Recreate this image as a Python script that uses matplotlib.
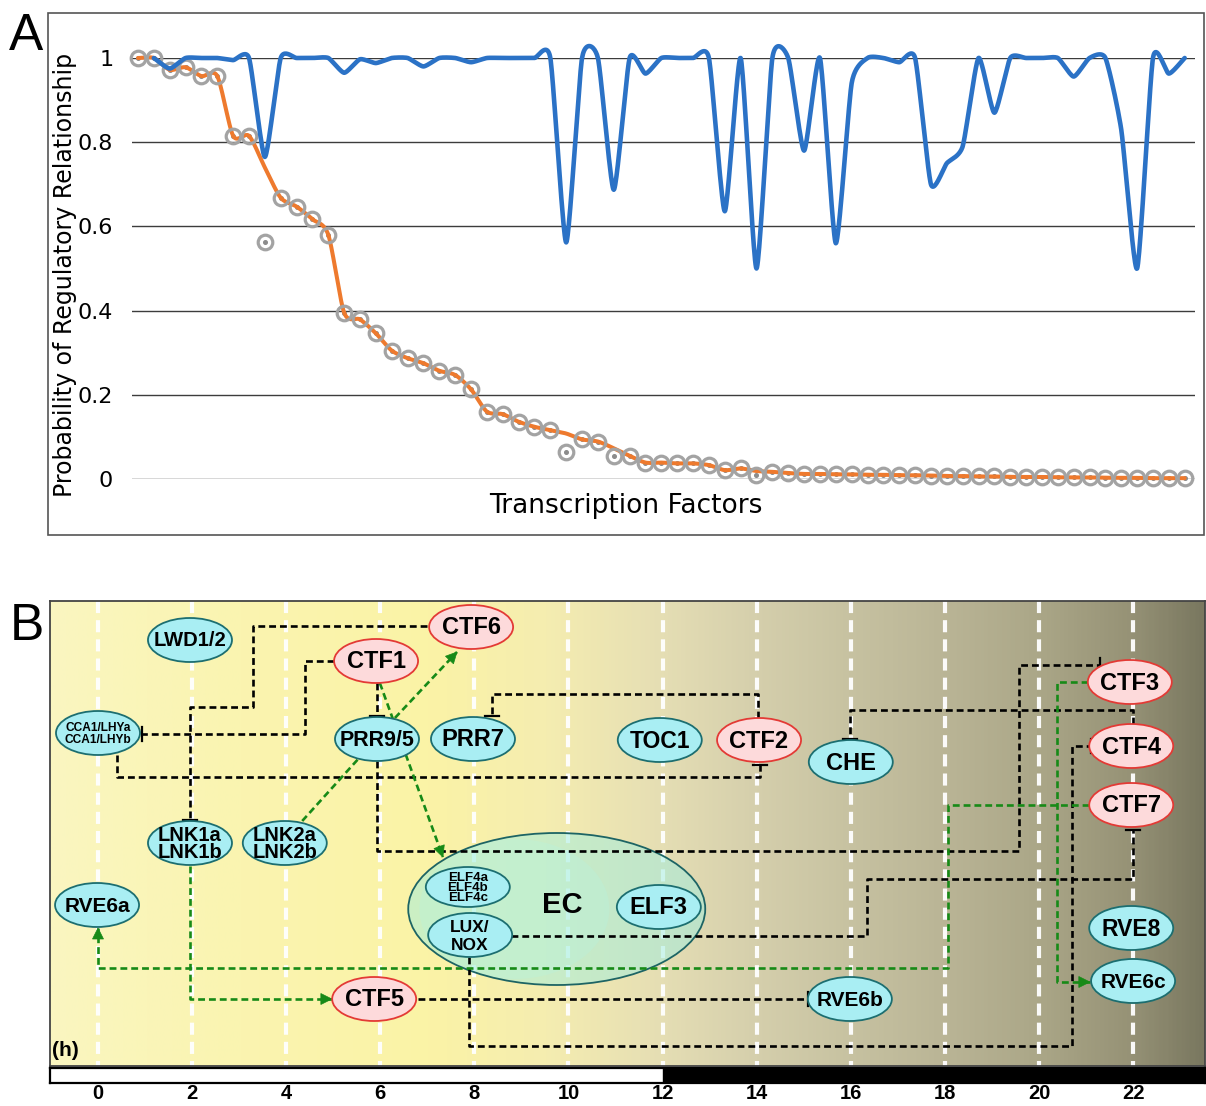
import numpy as np
import matplotlib
matplotlib.use("Agg")
import matplotlib.pyplot as plt
from matplotlib.patches import Rectangle, Ellipse, Polygon
from matplotlib.colors import LinearSegmentedColormap

# ---------------- data: panel A ----------------
tf_circles = [1.0, 1.0, 0.972, 0.978, 0.957, 0.957, 0.815, 0.815, 0.562, 0.668,
              0.647, 0.617, 0.580, 0.395, 0.379, 0.346, 0.305, 0.287, 0.275, 0.257,
              0.247, 0.213, 0.160, 0.154, 0.136, 0.124, 0.116, 0.065, 0.094, 0.089,
              0.055, 0.055, 0.039, 0.039, 0.037, 0.037, 0.033, 0.021, 0.025, 0.0095,
              0.017, 0.014, 0.012, 0.012, 0.011, 0.011, 0.010, 0.010, 0.009, 0.009,
              0.008, 0.007, 0.007, 0.006, 0.006, 0.005, 0.005, 0.005, 0.004, 0.004,
              0.004, 0.003, 0.003, 0.003, 0.002, 0.002, 0.002]
tf_orange = [1.0, 1.0, 0.972, 0.978, 0.957, 0.957, 0.815, 0.815, 0.740, 0.668,
             0.647, 0.617, 0.580, 0.395, 0.379, 0.346, 0.305, 0.287, 0.275, 0.257,
             0.247, 0.213, 0.160, 0.154, 0.136, 0.124, 0.116, 0.108, 0.094, 0.089,
             0.073, 0.055, 0.039, 0.039, 0.037, 0.037, 0.033, 0.021, 0.025, 0.019,
             0.017, 0.014, 0.012, 0.012, 0.011, 0.011, 0.010, 0.010, 0.009, 0.009,
             0.008, 0.007, 0.007, 0.006, 0.006, 0.005, 0.005, 0.005, 0.004, 0.004,
             0.004, 0.003, 0.003, 0.003, 0.002, 0.002, 0.002]
tf_blue = [np.nan, 1.0, 0.975, 1.0, 1.0, 1.0, 0.995, 1.0, 0.765, 1.0,
           1.0, 1.0, 1.0, 0.965, 0.997, 0.988, 1.0, 1.0, 0.98, 1.0,
           1.0, 0.99, 1.0, 1.0, 1.0, 1.0, 1.0, 0.562, 1.0, 1.0,
           0.687, 1.0, 0.963, 1.0, 1.0, 1.0, 1.0, 0.636, 1.0, 0.50,
           1.0, 1.0, 0.78, 1.0, 0.56, 0.94, 1.0, 1.0, 0.99, 1.0,
           0.70, 0.75, 0.79, 1.0, 0.87, 1.0, 1.0, 1.0, 1.0, 0.956,
           1.0, 1.0, 0.83, 0.50, 1.0, 0.963, 1.0]
y_ticks = [0, 0.2, 0.4, 0.6, 0.8, 1.0]
y_ticklabels = ["0", "0.2", "0.4", "0.6", "0.8", "1"]

# ---------------- data: panel B ----------------
hours = list(range(0, 24, 2))
node_names = ["LWD1/2", "CTF6", "CTF1", "CCA1/LHYa\nCCA1/LHYb", "PRR9/5", "PRR7",
              "TOC1", "CTF2", "CHE", "CTF3", "CTF4", "CTF7", "LNK1a\nLNK1b",
              "LNK2a\nLNK2b", "RVE6a", "ELF4a\nELF4b\nELF4c", "ELF3", "LUX/\nNOX",
              "RVE8", "RVE6c", "CTF5", "RVE6b"]
node_hour = [1.955, 7.93, 5.91, 0.0, 5.93, 7.97, 11.94, 14.05, 16.0, 21.93, 21.96, 21.96,
             1.955, 3.97, -0.02, 7.86, 11.92, 7.91, 21.96, 22.0, 5.87, 15.98]
node_level = [640, 627, 661, 733, 739, 739, 740, 740, 762, 682, 746, 805,
              843, 843, 905, 887, 907, 935, 928, 981, 999, 999]
complex_name = "EC"
complex_hour, complex_level = 9.75, 909
complex_label_hour, complex_label_level = 9.86, 905

# edges: (kind, waypoints as (hour, level))
edges = [
    ("inh", [(7.0, 626), (3.29, 626), (3.29, 707), (1.95, 707), (1.95, 820)]),   # CTF6 -| LNK1
    ("inh", [(5.02, 661), (4.40, 661), (4.40, 734), (0.935, 734)]),               # CTF1 -| CCA1/LHY
    ("inh", [(5.93, 683), (5.93, 716)]),                                          # CTF1 -| PRR9/5
    ("inh", [(0.40, 755), (0.40, 777), (14.07, 777), (14.07, 765)]),              # CCA1 -| CTF2
    ("inh", [(14.03, 718), (14.03, 694), (8.37, 694), (8.37, 716)]),              # CTF2 -| PRR7
    ("inh", [(5.93, 761), (5.93, 851), (19.57, 851), (19.57, 665), (21.30, 665)]),# PRR9/5 -| CTF3
    ("inh", [(22.0, 724), (22.0, 710), (15.98, 710), (15.98, 739)]),              # CTF4 -| CHE
    ("inh", [(7.88, 957), (7.88, 1046), (20.70, 1046), (20.70, 746), (21.10, 746)]),  # LUX -| CTF4
    ("inh", [(8.78, 936), (16.34, 936), (16.34, 879), (22.0, 879), (22.0, 830)]), # LUX -| CTF7
    ("inh", [(6.80, 999), (15.09, 999)]),                                         # CTF5 -| RVE6b
    ("act", [(6.31, 718), (7.63, 652)]),                                          # PRR9/5 -> CTF6
    ("act", [(5.99, 683), (7.33, 857)]),                                          # CTF1 -> ELF4
    ("line", [(4.34, 821), (5.53, 759)]),                                         # LNK2 - PRR9/5
    ("act", [(1.95, 866), (1.95, 999), (4.97, 999)]),                             # LNK1 -> CTF5
    ("act", [(21.06, 805), (18.07, 805), (18.07, 968), (0.0, 968), (0.0, 928)]),  # CTF7 -> RVE6a
    ("act", [(21.04, 682), (20.38, 682), (20.38, 982), (21.08, 982)]),            # CTF3 -> RVE6c
]

# ---------------- helpers ----------------
W, H = 1206, 1106
fig = plt.figure(figsize=(W / 100, H / 100), dpi=100)


def add_px_axes(x0, y0, x1, y1):
    return fig.add_axes([x0 / W, 1 - y1 / H, (x1 - x0) / W, (y1 - y0) / H])


def smooth(x, y, c=0.5, n=24):
    """Cardinal spline through the given points (c=0.5 is Catmull-Rom)."""
    x = np.asarray(x, float)
    y = np.asarray(y, float)
    P = np.column_stack([x, y])
    Pe = np.vstack([2 * P[0] - P[1], P, 2 * P[-1] - P[-2]])
    M = c * (Pe[2:] - Pe[:-2])
    t = np.linspace(0, 1, n, endpoint=False)[:, None]
    h00 = 2 * t ** 3 - 3 * t ** 2 + 1
    h10 = t ** 3 - 2 * t ** 2 + t
    h01 = -2 * t ** 3 + 3 * t ** 2
    h11 = t ** 3 - t ** 2
    out = []
    for i in range(len(P) - 1):
        out.append(h00 * P[i] + h10 * M[i] + h01 * P[i + 1] + h11 * M[i + 1])
    out.append(P[-1][None])
    return np.vstack(out)


# ---------------- panel A ----------------
idx = np.arange(len(tf_circles))
axA = add_px_axes(132, 58, 1195, 479)
axA.set_xlim(-0.378, 66.65)
axA.set_ylim(0, 1)
for s in axA.spines.values():
    s.set_visible(False)
axA.set_xticks([])
axA.set_yticks(y_ticks)
axA.set_yticklabels(y_ticklabels, fontsize=16, family="DejaVu Sans")
axA.tick_params(axis="y", length=0, pad=13.5)
for t in y_ticks:
    axA.axhline(t, color="#3c3c3c", lw=1.0, zorder=1)

axA.plot(idx, tf_circles, ls="none", marker="o", ms=2.6, color="#8c8c8c", zorder=2, clip_on=False)
oc = smooth(idx, tf_orange, c=0.4)
axA.plot(oc[:, 0], oc[:, 1], color="#EE7A2E", lw=2.9, zorder=3, solid_capstyle="round", clip_on=False)
axA.plot(idx, tf_circles, ls="none", marker="o", ms=10.5, mfc="none", mec="#A3A3A3", mew=2.3,
         zorder=4, clip_on=False)
bmask = ~np.isnan(np.array(tf_blue))
bc = smooth(idx[bmask], np.array(tf_blue)[bmask], c=0.3)
axA.plot(bc[:, 0], bc[:, 1], color="#2B72C6", lw=3.3, zorder=5, solid_capstyle="round",
         solid_joinstyle="round", clip_on=False)

fig.text(65 / W, 1 - 275 / H, "Probability of Regulatory Relationship", rotation=90,
         ha="center", va="center", fontsize=17, family="DejaVu Sans")
fig.text(626 / W, 1 - 506 / H, "Transcription Factors", ha="center", va="center",
         fontsize=19, family="DejaVu Sans")
fig.add_artist(Rectangle((48 / W, 1 - 535 / H), (1204 - 48) / W, (535 - 13) / H,
                         transform=fig.transFigure, fill=False, ec="#555555", lw=1.2))
fig.text(9 / W, 1 - 50 / H, "A", fontsize=37, family="Liberation Sans", va="baseline")
fig.text(10 / W, 1 - 640 / H, "B", fontsize=37, family="Liberation Sans", va="baseline")

# ---------------- panel B ----------------
HMIN, HMAX = (50 - 98) / 47.05, (1205 - 98) / 47.05
axB = add_px_axes(50, 601, 1205, 1066)
axB.set_xlim(HMIN, HMAX)
axB.set_ylim(1066, 601)
axB.set_xticks([])
axB.set_yticks([])
for s in axB.spines.values():
    s.set_color("#444444")
    s.set_linewidth(1.3)
    s.set_zorder(10)

grad_stops = [(HMIN, (250, 246, 192)), (3, (250, 244, 176)), (7, (251, 243, 166)),
              (9.5, (245, 237, 176)), (12, (229, 222, 180)), (14, (213, 207, 172)),
              (16, (199, 194, 161)), (18, (186, 181, 150)), (20, (171, 167, 136)),
              (22, (150, 146, 118)), (HMAX, (122, 120, 96))]
stops = []
for h, col in grad_stops:
    pos = min(max((h - HMIN) / (HMAX - HMIN), 0.0), 1.0)
    stops.append((pos, tuple(c / 255 for c in col)))
stops[0] = (0.0, stops[0][1])
stops[-1] = (1.0, stops[-1][1])
cmap = LinearSegmentedColormap.from_list("bg", stops)
axB.imshow(np.linspace(0, 1, 600)[None, :], cmap=cmap, aspect="auto",
           extent=(HMIN, HMAX, 1066, 601), zorder=0, interpolation="bilinear")

for h in hours:
    axB.plot([h, h], [601, 1066], color="white", lw=3.0, dashes=(2.9, 1.7), zorder=1, alpha=0.95)

# EC complex: translucent fill (two layers) + outline
axB.add_patch(Ellipse((complex_hour, complex_level), 297 / 47.05, 152, fc=(0.62, 0.93, 0.88),
                      alpha=0.5, ec="none", zorder=2))
axB.add_patch(Ellipse((complex_hour - 0.9, complex_level), 190 / 47.05, 140, fc=(0.70, 0.96, 0.90),
                      alpha=0.25, ec="none", zorder=2))
axB.add_patch(Ellipse((complex_hour, complex_level), 297 / 47.05, 152, fc="none",
                      ec="#1d6464", lw=1.3, zorder=2))
axB.text(complex_label_hour, complex_label_level, complex_name, ha="center", va="center",
         fontsize=21, fontweight="bold", family="Liberation Sans", zorder=6)

to_disp = axB.transData.transform
to_data = axB.transData.inverted().transform
green = "#178A17"
for kind, pts in edges:
    pts = np.array(pts, float)
    col = "black" if kind == "inh" else green
    axB.plot(pts[:, 0], pts[:, 1], color=col, lw=1.9, dashes=(2.6, 1.5), zorder=3,
             solid_capstyle="butt", dash_capstyle="butt")
    d_end = to_disp(pts[-1])
    d_prev = to_disp(pts[-2])
    u = (d_end - d_prev) / np.hypot(*(d_end - d_prev))
    v = np.array([-u[1], u[0]])
    if kind == "inh":
        bar = to_data(np.array([d_end + 7 * v, d_end - 7 * v]))
        axB.plot(bar[:, 0], bar[:, 1], color="black", lw=1.6, zorder=3)
    elif kind == "act":
        tri = to_data(np.array([d_end, d_end - 11 * u + 5.5 * v, d_end - 11 * u - 5.5 * v]))
        axB.add_patch(Polygon(tri, closed=True, fc=green, ec=green, lw=0.5, zorder=3))

node_fs = {"LWD1/2": 14.5, "CTF6": 17, "CTF1": 17, "CCA1/LHYa\nCCA1/LHYb": 8.6, "PRR9/5": 15.5,
           "PRR7": 17, "TOC1": 16.5, "CTF2": 17, "CHE": 17, "CTF3": 17, "CTF4": 17, "CTF7": 17,
           "LNK1a\nLNK1b": 14.5, "LNK2a\nLNK2b": 14.5, "RVE6a": 15, "ELF4a\nELF4b\nELF4c": 9.5,
           "ELF3": 17, "LUX/\nNOX": 12.5, "RVE8": 16.5, "RVE6c": 15, "CTF5": 17, "RVE6b": 15}
line_sp = {"LNK1a\nLNK1b": 0.85, "LNK2a\nLNK2b": 0.85, "CCA1/LHYa\nCCA1/LHYb": 1.05,
           "ELF4a\nELF4b\nELF4c": 0.8, "LUX/\nNOX": 1.25}
for name, hx, ly in zip(node_names, node_hour, node_level):
    red = name.startswith("CTF")
    fc = "#FDDADB" if red else "#A9EEF3"
    ec = "#E33A35" if red else "#1C6E70"
    hgt = 40 if name.startswith("ELF4") else 44
    axB.add_patch(Ellipse((hx, ly), 84 / 47.05, hgt, fc=fc, ec=ec, lw=1.3, zorder=4))
    axB.text(hx, ly + 1, name, ha="center", va="center", fontsize=node_fs[name], fontweight="bold",
             family="Liberation Sans", linespacing=line_sp.get(name, 1.0), zorder=5)

axB.text(-0.98, 1050, "(h)", ha="left", va="center", fontsize=15, fontweight="bold",
         family="Liberation Sans", zorder=6)

# time bar
axT = add_px_axes(50, 1068, 1205, 1083)
axT.set_xlim(HMIN, HMAX)
axT.set_ylim(0, 1)
axT.axvspan(HMIN, 12, color="white", zorder=0)
axT.axvspan(12, HMAX, color="black", zorder=0)
for s in axT.spines.values():
    s.set_color("black")
    s.set_linewidth(1.6)
axT.set_yticks([])
axT.set_xticks(hours)
axT.set_xticklabels([str(h) for h in hours], fontsize=14.5, fontweight="bold",
                    family="Liberation Sans")
axT.tick_params(axis="x", length=0, pad=0.5)

fig.savefig("out.png", dpi=100)
